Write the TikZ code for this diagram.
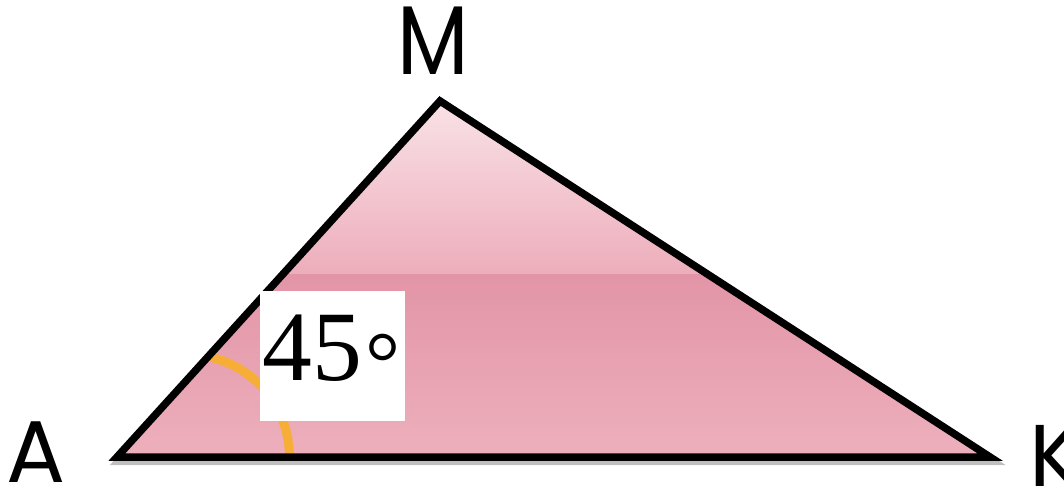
\documentclass[tikz,border=0pt]{standalone}
\usepackage{fontspec}
\setmainfont{Liberation Serif}
\newfontfamily\labelfont{Poppins}
\begin{document}
\begin{tikzpicture}[x=1bp,y=-1bp,
  vlabel/.style={font=\labelfont\fontsize{88}{88}\selectfont, inner sep=0pt, anchor=base},
  edge/.style={line width=7.5bp, line join=miter, black},
]
\useasboundingbox (0,0) rectangle (1064,490);
\definecolor{topA}{HTML}{F9E3E8}
\definecolor{topB}{HTML}{EDADBB}
\definecolor{botA}{HTML}{E295A7}
\definecolor{botB}{HTML}{EEB0BD}
\definecolor{arcor}{HTML}{F7AE36}
\coordinate (A) at (117,457);
\coordinate (M) at (440,101);
\coordinate (K) at (990,457);
% shadow
\draw[line width=8bp, black, opacity=0.25, line join=miter] ([shift={(2,4)}]A) -- ([shift={(2,4)}]M) -- ([shift={(2,4)}]K) -- cycle;
% fill
\begin{scope}
\clip (A) -- (M) -- (K) -- cycle;
\shade[top color=topA, bottom color=topB] (100,96) rectangle (1000,275);
\shade[top color=botA, bottom color=botB] (100,275) rectangle (1000,460);
\end{scope}
% angle arc
\draw[arcor, line width=9bp] (210,357) arc[start angle=77, end angle=0, x radius=102.5, y radius=-102.5];
\draw[edge] (A) -- (M) -- (K) -- cycle;
% angle label
\node[fill=white, minimum width=145bp, minimum height=130bp, inner sep=0pt, anchor=north west] (box) at (260,291) {};
\node[inner sep=0pt, anchor=base west, font=\fontsize{100}{100}\selectfont] (ang) at (262,381) {45\kern4bp\raisebox{-12bp}{\fontsize{88}{88}\selectfont °}};
% vertex labels
\node[vlabel, font=\labelfont\fontsize{98}{98}\selectfont] (lM) at (433,75) {\scalebox{0.85}[1]{M}};
\node[vlabel] (lA) at (36,482) {A};
\node[vlabel] (lK) at (1056,486) {K};
\end{tikzpicture}
\end{document}
